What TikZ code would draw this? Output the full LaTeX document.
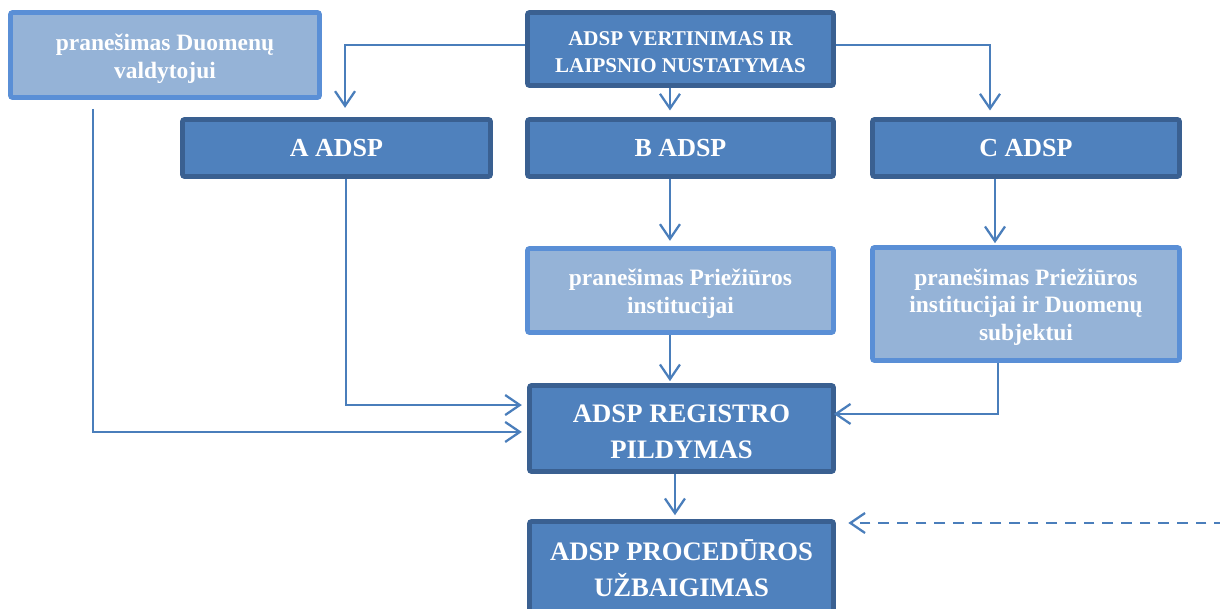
\documentclass[tikz,border=0pt]{standalone}
\usepackage{fontspec}
\setmainfont{Liberation Serif}
\usetikzlibrary{arrows.meta}
\definecolor{darkfill}{HTML}{4F81BD}
\definecolor{darkedge}{HTML}{3A6091}
\definecolor{lightfill}{HTML}{95B3D7}
\definecolor{lightedge}{HTML}{5A8FD6}
\definecolor{linecol}{HTML}{4A7EBB}
\newcommand{\downstrut}[1]{\rule{0pt}{#1}}
\tikzset{
  darkbox/.style={draw=darkedge, fill=darkfill, line width=3.5pt, rounded corners=1.5pt,
    inner sep=0pt, align=center, text=white},
  lightbox/.style={draw=lightedge, fill=lightfill, line width=3.5pt, rounded corners=1.5pt,
    inner sep=0pt, align=center, text=white},
  arr/.style={draw=linecol, line width=1.7pt,
    -{Straight Barb[length=11pt, width=15pt, line width=1.7pt]}},
  fsmall/.style={font=\bfseries\fontsize{15.75}{20.25}\selectfont},
  fmid/.style={font=\bfseries\fontsize{17.6}{20.5}\selectfont},
  fbig/.style={font=\bfseries\fontsize{19.5}{24}\selectfont},
  fhuge/.style={font=\bfseries\fontsize{20}{27}\selectfont},
}
\begin{document}
\begin{tikzpicture}[x=0.75pt, y=-0.75pt]
\useasboundingbox (0,0) rectangle (1220,609);
\clip (0,0) rectangle (1220,609);
\fill[white] (0,0) rectangle (1220,609);

\node[lightbox, fmid, minimum width=231.75pt, minimum height=63.75pt] (dv) at (165,55)
  {\downstrut{18pt}pranešimas Duomenų\\valdytojui};
\node[darkbox, fsmall, minimum width=229.5pt, minimum height=54.75pt] (vert) at (680.5,49)
  {\downstrut{15.5pt}ADSP VERTINIMAS IR\\LAIPSNIO NUSTATYMAS};
\node[darkbox, fbig, minimum width=231pt, minimum height=42.75pt] (A) at (336.5,148) {A ADSP};
\node[darkbox, fbig, minimum width=229.5pt, minimum height=42.75pt] (B) at (680.5,148) {B ADSP};
\node[darkbox, fbig, minimum width=230.25pt, minimum height=42.75pt] (C) at (1026,148) {C ADSP};
\node[lightbox, fmid, minimum width=229.5pt, minimum height=63pt] (pi) at (680.5,290.5)
  {\downstrut{17pt}pranešimas Priežiūros\\institucijai};
\node[lightbox, fmid, minimum width=230.25pt, minimum height=84.75pt] (pc) at (1026,304)
  {\downstrut{17pt}pranešimas Priežiūros\\institucijai ir Duomenų\\subjektui};
\node[darkbox, fhuge, minimum width=228pt, minimum height=64.5pt] (reg) at (681.5,428.5)
  {\downstrut{18pt}ADSP REGISTRO\\PILDYMAS};
\node[darkbox, fhuge, minimum width=228pt, minimum height=69.75pt] (proc) at (681.5,568)
  {ADSP PROCEDŪROS\\UŽBAIGIMAS};

\coordinate (dfree) at (1225,523);

% from evaluation box
\draw[arr, shorten >=7pt] ([yshift=3pt]vert.west) -| ([xshift=6.4pt]A.north);
\draw[arr, shorten >=5pt] ([yshift=3pt]vert.east) -| ([xshift=-27pt]C.north);
\draw[arr, shorten >=5pt] ([xshift=-7.9pt]vert.south) -- ([xshift=-7.9pt]B.north);
% B and C chains
\draw[arr, shorten >=4pt] ([xshift=-7.9pt]B.south) -- ([xshift=-7.9pt]pi.north);
\draw[arr, shorten >=1.5pt] ([xshift=-23.25pt]C.south) -- ([xshift=-23.25pt]pc.north);
\draw[arr, shorten >=1.5pt] ([xshift=-7.9pt]pi.south) -- ([xshift=-8.65pt]reg.north);
% into register
\draw[arr, shorten >=4pt] ([xshift=7.1pt]A.south) |- ([yshift=17.6pt]reg.west);
\draw[arr, shorten >=4pt] ([xshift=-54pt, yshift=-6.75pt]dv.south) |- ([yshift=-2.6pt]reg.west);
\draw[arr, shorten >=-1.5pt] ([xshift=-21pt]pc.south) |- ([yshift=10.9pt]reg.east);
% to completion
\draw[arr, shorten >=3pt] ([xshift=-4.9pt]reg.south) -- ([xshift=-4.9pt]proc.north);
\draw[arr, dash pattern=on 8pt off 6pt, shorten >=9.4pt] (dfree) -- (dfree -| proc.east);
\end{tikzpicture}
\end{document}
